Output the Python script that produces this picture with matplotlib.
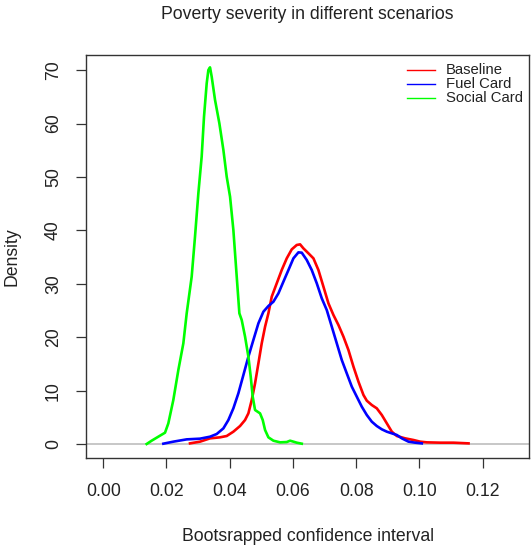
import matplotlib
matplotlib.use("Agg")
import matplotlib.pyplot as plt
from matplotlib.lines import Line2D

plt.rcParams["font.family"] = ["Liberation Sans", "DejaVu Sans"]

# density estimates
baseline_x = [
    0.02744, 0.03061, 0.03377, 0.03694, 0.03905, 0.04116, 0.04327, 0.04485,
    0.04591, 0.04697, 0.04802, 0.04908, 0.05013, 0.05119, 0.05224, 0.05330,
    0.05488, 0.05646, 0.05805, 0.05963, 0.06121, 0.06227, 0.06332, 0.06491,
    0.06649, 0.06807, 0.06966, 0.07124, 0.07282, 0.07441, 0.07599, 0.07757,
    0.07916, 0.08074, 0.08232, 0.08338, 0.08496, 0.08654, 0.08813, 0.08971,
    0.09129, 0.09288, 0.09551, 0.09815, 0.10026, 0.10237, 0.10660, 0.11082,
    0.11557,
]
baseline_y = [
    0.12, 0.44, 1.06, 1.25, 1.50, 2.31, 3.37, 4.49,
    5.74, 8.24, 11.36, 15.11, 18.85, 21.97, 24.47, 27.59,
    30.09, 32.58, 34.77, 36.45, 37.27, 37.39, 36.64, 35.71,
    34.77, 32.58, 29.46, 26.34, 24.16, 22.28, 20.10, 17.60,
    14.48, 11.67, 9.18, 8.11, 7.30, 6.68, 5.43, 3.87,
    2.31, 1.50, 1.06, 0.75, 0.44, 0.31, 0.25, 0.25,
    0.12,
]

fuel_x = [
    0.01900, 0.02216, 0.02639, 0.03061, 0.03377, 0.03588, 0.03800, 0.03958,
    0.04116, 0.04274, 0.04433, 0.04591, 0.04749, 0.04908, 0.05066, 0.05224,
    0.05383, 0.05541, 0.05699, 0.05858, 0.06016, 0.06174, 0.06280, 0.06438,
    0.06596, 0.06755, 0.06913, 0.07071, 0.07230, 0.07388, 0.07546, 0.07704,
    0.07863, 0.08021, 0.08179, 0.08338, 0.08496, 0.08654, 0.08813, 0.08971,
    0.09129, 0.09288, 0.09446, 0.09657, 0.09868, 0.10079,
]
fuel_y = [
    0.06, 0.44, 0.87, 1.00, 1.37, 1.87, 2.93, 4.49,
    6.68, 9.49, 12.92, 16.35, 19.48, 22.60, 24.78, 25.84,
    26.65, 28.21, 30.40, 32.58, 34.77, 35.89, 35.83, 34.46,
    32.58, 30.09, 27.28, 25.09, 21.97, 18.85, 15.73, 13.23,
    10.74, 8.86, 6.99, 5.43, 4.18, 3.37, 2.75, 2.31,
    2.00, 1.69, 1.06, 0.44, 0.25, 0.12,
]

social_x = [
    0.01372, 0.01530, 0.01741, 0.01953, 0.02058, 0.02216, 0.02375, 0.02533,
    0.02639, 0.02797, 0.02902, 0.03008, 0.03113, 0.03187, 0.03272, 0.03325,
    0.03377, 0.03430, 0.03536, 0.03673, 0.03800, 0.03905, 0.04011, 0.04116,
    0.04222, 0.04306, 0.04380, 0.04486, 0.04591, 0.04665, 0.04728, 0.04802,
    0.04960, 0.05045, 0.05119, 0.05224, 0.05383, 0.05594, 0.05805, 0.05910,
    0.06016, 0.06121, 0.06280,
]
social_y = [
    0.00, 0.62, 1.37, 2.12, 3.87, 8.24, 13.86, 18.85,
    24.47, 31.34, 38.83, 46.94, 53.81, 61.30, 67.54, 70.04,
    70.54, 68.79, 64.42, 60.05, 55.06, 50.06, 46.32, 40.07,
    31.34, 24.47, 23.22, 20.10, 16.35, 12.61, 8.86, 6.37,
    5.74, 4.49, 2.62, 1.25, 0.62, 0.31, 0.37, 0.62,
    0.44, 0.25, 0.06,
]

series_names = ["Baseline", "Fuel Card", "Social Card"]
series_colors = ["#ff0000", "#0000ff", "#00ff00"]

x_ticks = [0.00, 0.02, 0.04, 0.06, 0.08, 0.10, 0.12]
y_ticks = [0, 10, 20, 30, 40, 50, 60, 70]

FS = 12.7
W, H = 531, 549


def main():

    fig = plt.figure(figsize=(W / 100, H / 100), dpi=100)

    left, right, top, bottom = 86, 529, 55, 458
    ax = fig.add_axes([
        left / W,
        1 - bottom / H,
        (right - left) / W,
        (bottom - top) / H,
    ])

    ax.axhline(0, color="#bebebe", lw=1.2, zorder=1)

    ax.plot(baseline_x, baseline_y, color=series_colors[0], lw=1.9, zorder=3)
    ax.plot(fuel_x, fuel_y, color=series_colors[1], lw=1.9, zorder=3)
    ax.plot(social_x, social_y, color=series_colors[2], lw=1.9, zorder=3)

    ax.set_xlim(-0.00547, 0.1347)
    ax.set_ylim(-2.62, 72.85)

    ax.set_xticks(x_ticks)
    ax.set_xticklabels([f"{v:.2f}" for v in x_ticks])
    ax.set_yticks(y_ticks)
    ax.set_yticklabels([str(v) for v in y_ticks], rotation=90, va="center")

    ax.tick_params(
        axis="both",
        direction="out",
        length=7.2,
        width=0.9,
        color="#333333",
        labelsize=FS,
        labelcolor="#222222",
    )
    ax.tick_params(axis="x", pad=10.5)
    ax.tick_params(axis="y", pad=10.0)

    for spine in ax.spines.values():
        spine.set_color("#333333")
        spine.set_linewidth(1.0)

    ax.set_title(
        "Poverty severity in different scenarios",
        fontsize=FS,
        color="#222222",
        pad=26,
    )

    ax.set_xlabel("Bootsrapped confidence interval", fontsize=FS, color="#222222")
    ax.xaxis.label.set_va("center")
    ax.xaxis.set_label_coords(0.5, -(536.5 - bottom) / (bottom - top))

    ax.set_ylabel("Density", fontsize=FS, color="#222222")
    ax.yaxis.label.set_va("center")
    ax.yaxis.set_label_coords(-(left - 12) / (right - left), 0.5)

    # legend drawn by hand, R style without a box
    row_y = [69.7, 84.0, 98.3]
    for name, color, yy in zip(series_names, series_colors, row_y):
        fy = 1 - yy / H
        fig.add_artist(Line2D(
            [407 / W, 435 / W], [fy, fy],
            color=color, lw=1.0, transform=fig.transFigure,
        ))
        fig.text(446 / W, fy, name, fontsize=10.7, color="#222222",
                 va="center", ha="left")

    fig.savefig("out.png", dpi=100)
    plt.close(fig)


if __name__ == "__main__":
    main()
